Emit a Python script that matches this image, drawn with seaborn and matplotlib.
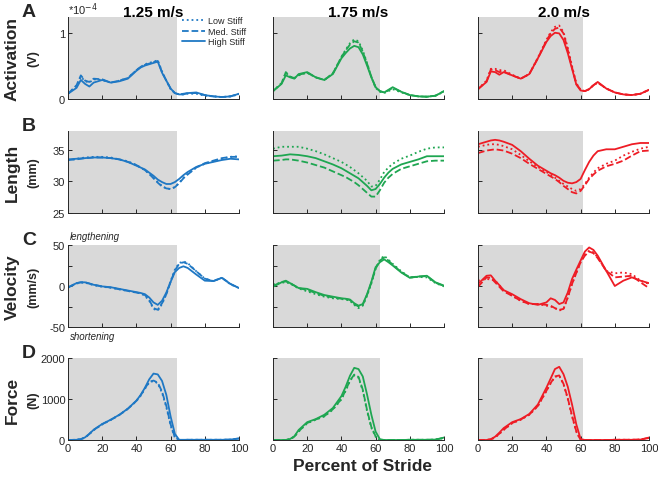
import matplotlib
matplotlib.use("Agg")
import matplotlib.pyplot as plt
from matplotlib.lines import Line2D
import seaborn as sns
import numpy as np

# percent of stride (denser where the curves change fast)
pct = np.array([0, 5, 7.5, 10, 12.5, 15, 20, 25, 30, 35, 40, 42.5, 45, 47.5, 50, 52.5,
                55, 57.5, 60, 62.5, 65, 67.5, 70, 75, 80, 85, 90, 95, 100])

# Activation (x 1e-4 V)
act_125_low = [0.08, 0.20, 0.34, 0.27, 0.25, 0.30, 0.29, 0.25, 0.28, 0.32, 0.44, 0.49, 0.53, 0.55, 0.57, 0.59, 0.42, 0.28, 0.15, 0.09, 0.07, 0.07, 0.08, 0.08, 0.05, 0.04, 0.03, 0.04, 0.07]
act_125_med = [0.08, 0.21, 0.36, 0.28, 0.26, 0.31, 0.30, 0.25, 0.28, 0.32, 0.44, 0.49, 0.52, 0.54, 0.56, 0.58, 0.41, 0.28, 0.16, 0.09, 0.07, 0.08, 0.09, 0.09, 0.06, 0.04, 0.03, 0.04, 0.08]
act_125_high = [0.08, 0.17, 0.29, 0.23, 0.19, 0.25, 0.29, 0.25, 0.27, 0.31, 0.43, 0.48, 0.51, 0.53, 0.55, 0.57, 0.40, 0.28, 0.16, 0.09, 0.07, 0.07, 0.09, 0.10, 0.06, 0.04, 0.03, 0.04, 0.08]
act_175_low = [0.12, 0.24, 0.40, 0.34, 0.32, 0.36, 0.40, 0.33, 0.29, 0.39, 0.64, 0.75, 0.85, 0.91, 0.88, 0.74, 0.55, 0.34, 0.17, 0.11, 0.09, 0.12, 0.15, 0.10, 0.06, 0.04, 0.035, 0.05, 0.11]
act_175_med = [0.12, 0.24, 0.41, 0.34, 0.32, 0.37, 0.40, 0.33, 0.29, 0.39, 0.64, 0.74, 0.83, 0.88, 0.86, 0.72, 0.54, 0.34, 0.18, 0.12, 0.10, 0.13, 0.17, 0.11, 0.06, 0.04, 0.035, 0.05, 0.12]
act_175_high = [0.12, 0.23, 0.36, 0.33, 0.31, 0.38, 0.41, 0.33, 0.29, 0.38, 0.62, 0.70, 0.77, 0.81, 0.79, 0.68, 0.51, 0.33, 0.18, 0.12, 0.10, 0.14, 0.18, 0.11, 0.06, 0.04, 0.035, 0.05, 0.12]
act_200_low = [0.15, 0.28, 0.46, 0.46, 0.44, 0.44, 0.37, 0.31, 0.38, 0.63, 0.90, 1.02, 1.10, 1.12, 1.02, 0.78, 0.50, 0.24, 0.14, 0.12, 0.15, 0.21, 0.25, 0.16, 0.10, 0.07, 0.06, 0.08, 0.14]
act_200_med = [0.15, 0.27, 0.45, 0.44, 0.41, 0.42, 0.36, 0.31, 0.38, 0.62, 0.89, 1.00, 1.07, 1.09, 1.00, 0.75, 0.48, 0.23, 0.14, 0.12, 0.15, 0.21, 0.25, 0.16, 0.10, 0.07, 0.06, 0.08, 0.14]
act_200_high = [0.15, 0.26, 0.42, 0.41, 0.37, 0.41, 0.36, 0.31, 0.38, 0.62, 0.87, 0.96, 1.01, 1.00, 0.90, 0.70, 0.46, 0.22, 0.13, 0.12, 0.15, 0.21, 0.26, 0.16, 0.10, 0.07, 0.06, 0.08, 0.14]

# Length (mm)
len_125_low = [33.4, 33.6, 33.7, 33.8, 33.85, 33.9, 33.9, 33.8, 33.5, 33.2, 32.6, 32.2, 31.8, 31.2, 30.6, 29.9, 29.3, 28.9, 28.8, 29.1, 29.8, 30.6, 31.2, 32.2, 32.8, 33.2, 33.6, 33.9, 34.0]
len_125_med = [33.4, 33.5, 33.6, 33.7, 33.75, 33.8, 33.8, 33.7, 33.5, 33.1, 32.6, 32.2, 31.8, 31.2, 30.5, 29.8, 29.2, 28.9, 28.8, 29.1, 29.7, 30.5, 31.1, 32.2, 32.9, 33.3, 33.7, 33.9, 33.9]
len_125_high = [33.5, 33.6, 33.65, 33.7, 33.75, 33.8, 33.8, 33.7, 33.5, 33.1, 32.5, 32.2, 31.9, 31.4, 30.9, 30.3, 29.9, 29.6, 29.6, 29.9, 30.4, 31.0, 31.5, 32.3, 32.8, 33.1, 33.4, 33.6, 33.5]
len_175_low = [35.2, 35.5, 35.5, 35.5, 35.5, 35.5, 35.2, 34.8, 34.3, 33.7, 33.1, 32.7, 32.3, 31.8, 31.3, 30.7, 30.1, 29.2, 29.3, 30.3, 31.5, 32.2, 32.8, 33.6, 34.1, 34.7, 35.2, 35.4, 35.4]
len_175_med = [33.3, 33.4, 33.5, 33.5, 33.4, 33.3, 33.0, 32.6, 32.2, 31.6, 31.0, 30.7, 30.3, 29.9, 29.4, 28.8, 28.2, 27.6, 27.6, 28.6, 29.8, 30.6, 31.2, 32.0, 32.4, 32.8, 33.2, 33.3, 33.3]
len_175_high = [34.0, 34.1, 34.2, 34.3, 34.25, 34.2, 34.0, 33.7, 33.2, 32.7, 32.1, 31.7, 31.3, 30.9, 30.5, 29.9, 29.3, 28.6, 28.8, 29.6, 30.6, 31.4, 32.0, 32.7, 33.1, 33.5, 34.0, 34.0, 34.0]
len_200_low = [35.5, 35.8, 35.9, 35.9, 35.8, 35.6, 35.1, 34.2, 33.2, 32.3, 31.5, 31.1, 30.6, 30.1, 29.6, 29.2, 28.8, 28.5, 28.8, 29.6, 30.6, 31.4, 32.1, 32.8, 33.3, 34.1, 34.7, 35.2, 35.5]
len_200_med = [34.5, 34.9, 35.0, 35.1, 35.0, 34.9, 34.4, 33.7, 32.8, 32.0, 31.2, 30.8, 30.4, 29.9, 29.3, 28.8, 28.3, 28.1, 28.5, 29.4, 30.4, 31.1, 31.7, 32.4, 32.8, 33.3, 34.1, 34.8, 34.9]
len_200_high = [35.9, 36.3, 36.5, 36.6, 36.5, 36.3, 35.8, 34.8, 33.6, 32.5, 31.7, 31.3, 31.0, 30.6, 30.1, 29.8, 29.7, 29.9, 30.4, 31.8, 33.1, 34.1, 34.8, 35.1, 35.1, 35.5, 35.9, 36.1, 36.1]

# Velocity (mm/s)
vel_125_low = [-2, 3, 4, 4, 2.5, 1, -1, -2, -4, -6, -8, -9, -12, -18, -28, -30, -22, -10, 6, 20, 28, 30, 28, 18, 9, 6, 10, 2, -2.5]
vel_125_med = [-2, 3.5, 4.5, 4.5, 3, 1.5, -0.5, -2, -4, -6, -8, -9, -11, -17, -27, -29, -21, -10, 5, 19, 27, 29, 27, 18, 9, 6, 10, 2.5, -2.5]
vel_125_high = [-1.5, 3.5, 4.5, 4.5, 3, 1.5, -0.5, -1.5, -3.5, -5.5, -7.5, -8.5, -10, -14, -20, -23, -18, -8, 5, 17, 22, 24, 22, 14, 6.5, 6, 10, 2.5, -2.5]
vel_175_low = [2, 4, 4.5, 3, 0, -3, -6.5, -10, -13, -15, -16, -16.5, -18, -23, -27, -24, -12, 3, 21, 32, 37, 32, 27, 18, 10.5, 11, 10.5, 3.5, -0.5]
vel_175_med = [0, 5, 5.5, 3.5, 0.5, -2.5, -5, -8.5, -12, -14, -15.5, -16, -17, -22, -25, -23, -11, 4, 21, 31, 35, 31, 26, 17, 10.5, 11.5, 12, 4, 0]
vel_175_high = [-1, 4.5, 6.5, 3.5, 0.5, -2.5, -3.5, -7.5, -11, -13, -15, -15.5, -16.5, -21, -24, -22, -10, 5, 23, 29, 32.5, 29, 25, 16.5, 10, 11.5, 12.5, 4.5, 0.5]
vel_200_low = [6.5, 8.5, 8, 6.5, 1, -5.5, -12, -18, -22, -22, -24, -25, -27, -30, -28, -14, 2.5, 16, 29, 38, 43, 41, 35, 18.5, 15.5, 16.5, 14.5, 6.5, 2.5]
vel_200_med = [-1, 10.5, 10, 4.5, -1, -6.5, -12, -18, -22, -22, -23, -24, -27, -29, -28, -14, 2.5, 16, 29, 37, 42, 40, 34, 18.5, 10.5, 11.5, 12.5, 4.5, -2.5]
vel_200_high = [2.5, 12.5, 13, 6.5, 1, -5, -10, -16, -21, -23, -20, -15, -17, -22, -20, -8, 8.5, 20, 31, 42, 47, 44, 37, 18.5, 0, 6.5, 10.5, 6.5, 3.5]

# Force (N)
frc_125_low = [0, 5, 20, 60, 145, 240, 380, 490, 610, 760, 950, 1080, 1250, 1400, 1440, 1380, 1150, 800, 350, 60, 0, 0, 5, 5, 5, 5, 5, 10, 35]
frc_125_med = [0, 5, 20, 60, 148, 245, 385, 490, 610, 760, 955, 1090, 1260, 1420, 1450, 1400, 1180, 830, 380, 70, 0, 0, 5, 5, 5, 5, 5, 10, 35]
frc_125_high = [0, 5, 20, 65, 150, 250, 390, 495, 615, 765, 960, 1100, 1275, 1480, 1620, 1600, 1440, 1100, 575, 150, 5, 5, 5, 5, 5, 5, 5, 10, 40]
frc_175_low = [0, 0, 0, 20, 80, 205, 410, 495, 575, 740, 990, 1200, 1440, 1580, 1520, 1200, 700, 300, 80, 0, 0, 0, 0, 0, 5, 5, 5, 10, 50]
frc_175_med = [0, 0, 0, 20, 85, 210, 415, 500, 580, 750, 1000, 1215, 1450, 1595, 1540, 1230, 730, 320, 90, 0, 0, 0, 0, 0, 5, 5, 5, 10, 50]
frc_175_high = [0, 0, 0, 25, 90, 245, 435, 510, 615, 780, 1070, 1300, 1565, 1760, 1730, 1550, 1110, 620, 205, 20, 0, 0, 0, 0, 5, 5, 5, 10, 60]
frc_200_low = [0, 0, 15, 60, 150, 245, 410, 495, 615, 825, 1195, 1380, 1540, 1565, 1360, 1000, 575, 200, 0, 0, 0, 0, 0, 0, 5, 5, 5, 10, 50]
frc_200_med = [0, 0, 15, 65, 155, 250, 415, 500, 620, 830, 1200, 1390, 1550, 1575, 1370, 1020, 590, 210, 0, 0, 0, 0, 0, 0, 5, 5, 5, 10, 50]
frc_200_high = [0, 0, 20, 80, 180, 290, 435, 510, 635, 865, 1275, 1500, 1730, 1785, 1605, 1300, 865, 380, 25, 0, 0, 0, 0, 0, 5, 5, 5, 10, 60]

speeds = ["1.25 m/s", "1.75 m/s", "2.0 m/s"]
stance_end = [63.7, 62.6, 61.2]
colors = ["#1f78c4", "#1ea651", "#ee1c25"]

rows = [
    [(act_125_low, act_125_med, act_125_high), (act_175_low, act_175_med, act_175_high), (act_200_low, act_200_med, act_200_high)],
    [(len_125_low, len_125_med, len_125_high), (len_175_low, len_175_med, len_175_high), (len_200_low, len_200_med, len_200_high)],
    [(vel_125_low, vel_125_med, vel_125_high), (vel_175_low, vel_175_med, vel_175_high), (vel_200_low, vel_200_med, vel_200_high)],
    [(frc_125_low, frc_125_med, frc_125_high), (frc_175_low, frc_175_med, frc_175_high), (frc_200_low, frc_200_med, frc_200_high)],
]
row_names = ["Activation", "Length", "Velocity", "Force"]
row_units = ["(V)", "(mm)", "(mm/s)", "(N)"]
row_letters = ["A", "B", "C", "D"]
ylims = [(0, 1.25), (25, 38), (-50, 50), (0, 2000)]
yticks = [[0, 1], [25, 30, 35], [-50, -25, 0, 25, 50], [0, 1000, 2000]]
yticklabels = [["0", "1"], ["25", "30", "35"], ["-50", "", "0", "", "50"], ["0", "1000", "2000"]]
styles = [":", "--", "-"]
stiff_labels = ["Low Stiff", "Med. Stiff", "High Stiff"]

sns.set_style("ticks")
plt.rcParams["font.family"] = ["Liberation Sans", "DejaVu Sans"]

W, H = 658, 481
fig = plt.figure(figsize=(W / 100, H / 100), dpi=100)

col_left = [68, 273, 478]
row_top = [18, 132, 246, 359]
ax_w, ax_h = 171, 82
dark = "#262626"

for r in range(4):
    for c in range(3):
        ax = fig.add_axes([col_left[c] / W, 1 - (row_top[r] + ax_h) / H, ax_w / W, ax_h / H])
        ax.axvspan(0, stance_end[c], color="#d9d9d9", lw=0, zorder=0)
        for s in range(3):
            sns.lineplot(x=pct, y=rows[r][c][s], ax=ax, color=colors[c], linestyle=styles[s],
                         linewidth=1.3, legend=False)
        ax.set_xlim(0, 100)
        ax.set_ylim(*ylims[r])
        ax.set_xticks(range(0, 101, 20))
        ax.set_yticks(yticks[r])
        if c == 0:
            ax.set_yticklabels(yticklabels[r])
        else:
            ax.set_yticklabels([])
        if r < 3:
            ax.set_xticklabels([])
        ax.tick_params(direction="in", length=3, width=0.7, labelsize=8, colors=dark, pad=2)
        for sp in ["top", "right"]:
            ax.spines[sp].set_visible(False)
        for sp in ["left", "bottom"]:
            ax.spines[sp].set_color(dark)
            ax.spines[sp].set_linewidth(0.7)
        ax.set_xlabel("")
        ax.set_ylabel("")

        if r == 0:
            ax.text(0.5, 1 + 1 / ax_h, speeds[c], transform=ax.transAxes, ha="center", va="baseline",
                    fontsize=11, fontweight="bold", color="black")
        if r == 0 and c == 0:
            ax.text(0.0, 1 + 3 / ax_h, "*10$^{-4}$", transform=ax.transAxes, ha="left", va="baseline",
                    fontsize=8, color=dark)
            handles = [Line2D([], [], color=colors[0], linestyle=styles[s], lw=1.3) for s in range(3)]
            ax.legend(handles, stiff_labels, loc="upper left", bbox_to_anchor=(0.655, 1.03),
                      frameon=False, fontsize=6.5, handlelength=2.6, handletextpad=0.3,
                      labelspacing=0.15, borderpad=0.2, borderaxespad=0)
        if r == 2 and c == 0:
            ax.text(0.01, 1.05, "lengthening", transform=ax.transAxes, ha="left", va="bottom",
                    fontsize=7, style="italic", color=dark)
            ax.text(0.01, -0.05, "shortening", transform=ax.transAxes, ha="left", va="top",
                    fontsize=7, style="italic", color=dark)

    yc = 1 - (row_top[r] + ax_h / 2) / H
    fig.text(12 / W, yc, row_names[r], rotation=90, ha="center", va="center",
             fontsize=12.5, fontweight="bold")
    fig.text(33 / W, yc, row_units[r], rotation=90, ha="center", va="center",
             fontsize=9, fontweight="bold")
    fig.text(22 / W, 1 - (row_top[r] - 1) / H, row_letters[r], ha="left", va="baseline",
             fontsize=14, fontweight="bold")

fig.text(362 / W, 1 - 471 / H, "Percent of Stride", ha="center", va="baseline",
         fontsize=12.5, fontweight="bold")

fig.savefig("out.png", dpi=100)
